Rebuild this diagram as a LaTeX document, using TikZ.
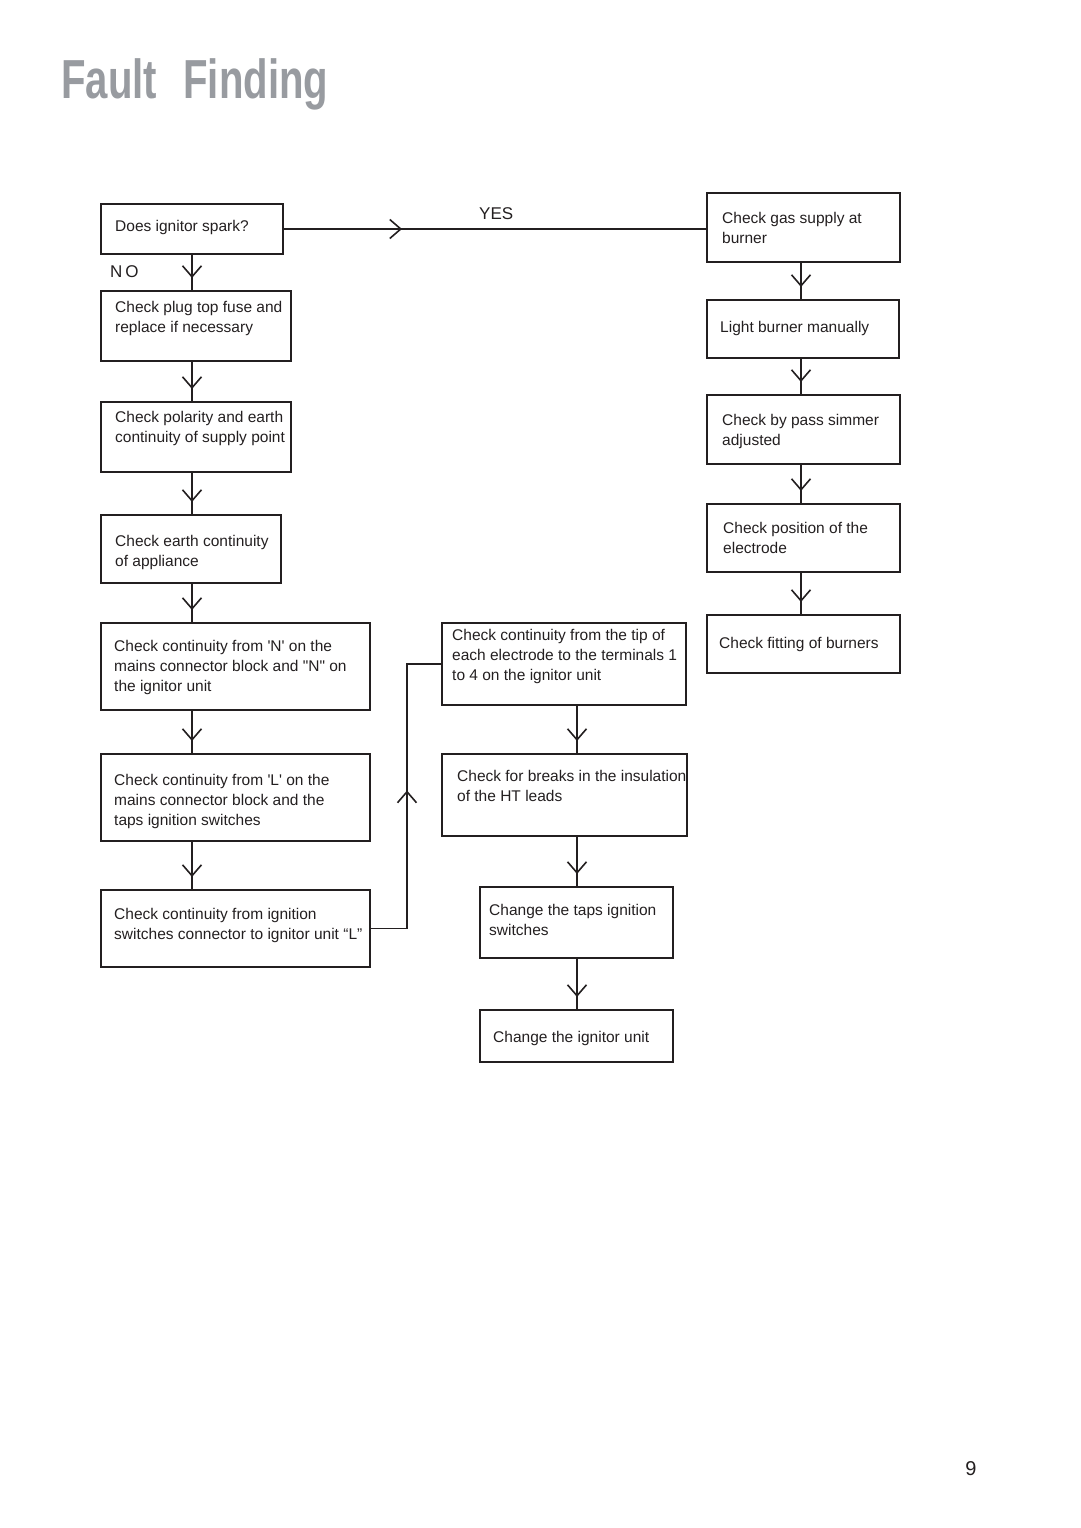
\documentclass[tikz,border=0pt]{standalone}
\usepackage{fontspec}
\newfontfamily\boxfont{Liberation Sans}
\usetikzlibrary{arrows.meta,decorations.markings,calc}
\definecolor{ink}{HTML}{231F20}
\definecolor{titlegray}{HTML}{989BA0}
\tikzset{
 box/.style={draw=ink, line width=1.6pt, inner sep=0pt, outer sep=0pt, anchor=north west, rectangle},
 txt/.style={anchor=north west, inner sep=0pt, align=left, text=ink, font=\boxfont\fontsize{15.5}{20}\selectfont},
 lbl/.style={anchor=west, inner sep=0pt, text=ink, font=\boxfont\fontsize{17}{20}\selectfont},
 conn/.style={draw=ink, line width=1.6pt},
 chev/.style={postaction={decorate, decoration={markings, mark=at position #1 with {\arrow{Straight Barb[length=11pt,width=19pt,line width=1.6pt]}}}}},
}
\begin{document}
\begin{tikzpicture}[x=1pt,y=-1pt]
\useasboundingbox (0,0) rectangle (1080,1528);
\node[anchor=north west, inner sep=0pt, text=titlegray, font=\boxfont\bfseries\fontsize{55}{60}\selectfont] (title) at (61,58) {\scalebox{0.73}[1]{Fault\hspace{36pt}Finding}};
% column coordinates
\coordinate (lc) at (192,0);
\coordinate (mc) at (577,0);
\coordinate (rc) at (801,0);
\coordinate (lp) at (407,0);
% left column boxes
\node[box, minimum width=182pt, minimum height=50pt] (b1) at (101,204) {};
\node[box, minimum width=190pt, minimum height=70pt] (b2) at (101,291) {};
\node[box, minimum width=190pt, minimum height=70pt] (b3) at (101,402) {};
\node[box, minimum width=180pt, minimum height=68pt] (b4) at (101,515) {};
\node[box, minimum width=269pt, minimum height=87pt] (b5) at (101,623) {};
\node[box, minimum width=269pt, minimum height=87pt] (b6) at (101,754) {};
\node[box, minimum width=269pt, minimum height=77pt] (b7) at (101,890) {};
% middle column
\node[box, minimum width=244pt, minimum height=82pt] (m1) at (442,623) {};
\node[box, minimum width=245pt, minimum height=82pt] (m2) at (442,754) {};
\node[box, minimum width=193pt, minimum height=71pt] (m3) at (480,887) {};
\node[box, minimum width=193pt, minimum height=52pt] (m4) at (480,1010) {};
% right column
\node[box, minimum width=193pt, minimum height=69pt] (r1) at (707,193) {};
\node[box, minimum width=192pt, minimum height=58pt] (r2) at (707,300) {};
\node[box, minimum width=193pt, minimum height=69pt] (r3) at (707,395) {};
\node[box, minimum width=193pt, minimum height=68pt] (r4) at (707,504) {};
\node[box, minimum width=193pt, minimum height=58pt] (r5) at (707,615) {};
% texts
\node[txt] (b1t) at (115,220) {Does ignitor spark?};
\node[txt] (b2t) at (115,301) {Check plug top fuse and\\replace if necessary};
\node[txt] (b3t) at (115,411) {Check polarity and earth\\continuity of supply point};
\node[txt] (b4t) at (115,535) {Check earth continuity\\of appliance};
\node[txt] (b5t) at (114,640) {Check continuity from 'N' on the\\mains connector block and "N" on\\the ignitor unit};
\node[txt] (b6t) at (114,774) {Check continuity from 'L' on the\\mains connector block and the\\taps ignition switches};
\node[txt] (b7t) at (114,908) {Check continuity from ignition\\switches connector to ignitor unit “L”};
\node[txt] (m1t) at (452,629) {Check continuity from the tip of\\each electrode to the terminals 1\\to 4 on the ignitor unit};
\node[txt] (m2t) at (457,770) {Check for breaks in the insulation\\of the HT leads};
\node[txt] (m3t) at (489,904) {Change the taps ignition\\switches};
\node[txt] (m4t) at (493,1031) {Change the ignitor unit};
\node[txt] (r1t) at (722,212) {Check gas supply at\\burner};
\node[txt] (r2t) at (720,321) {Light burner manually};
\node[txt] (r3t) at (722,414) {Check by pass simmer\\adjusted};
\node[txt] (r4t) at (723,522) {Check position of the\\electrode};
\node[txt] (r5t) at (719,637) {Check fitting of burners};
% labels
\node[lbl] (no) at (110,272) {N\,O};
\node[lbl] (yes) at (479,214) {YES};
\node[anchor=center, inner sep=0pt, text=ink, font=\boxfont\fontsize{20}{22}\selectfont] (pg) at (971,1469) {9};
% connectors
\draw[conn, chev=119pt] (b1.east) -- (b1.east -| r1.west);
\draw[conn, chev=-13pt] (b1.south -| lc) -- (b2.north -| lc);
\draw[conn, chev=-13pt] (b2.south -| lc) -- (b3.north -| lc);
\draw[conn, chev=-13pt] (b3.south -| lc) -- (b4.north -| lc);
\draw[conn, chev=-13pt] (b4.south -| lc) -- (b5.north -| lc);
\draw[conn, chev=-13pt] (b5.south -| lc) -- (b6.north -| lc);
\draw[conn, chev=-13pt] (b6.south -| lc) -- (b7.north -| lc);
\draw[conn, chev=175pt] (b7.east) -- (b7.east -| lp) -- (lp |- m1.west) -- (m1.west);
\draw[conn, chev=-13pt] (m1.south -| mc) -- (m2.north -| mc);
\draw[conn, chev=-13pt] (m2.south -| mc) -- (m3.north -| mc);
\draw[conn, chev=-13pt] (m3.south -| mc) -- (m4.north -| mc);
\draw[conn, chev=-13pt] (r1.south -| rc) -- (r2.north -| rc);
\draw[conn, chev=-13pt] (r2.south -| rc) -- (r3.north -| rc);
\draw[conn, chev=-13pt] (r3.south -| rc) -- (r4.north -| rc);
\draw[conn, chev=-13pt] (r4.south -| rc) -- (r5.north -| rc);
\end{tikzpicture}
\end{document}
